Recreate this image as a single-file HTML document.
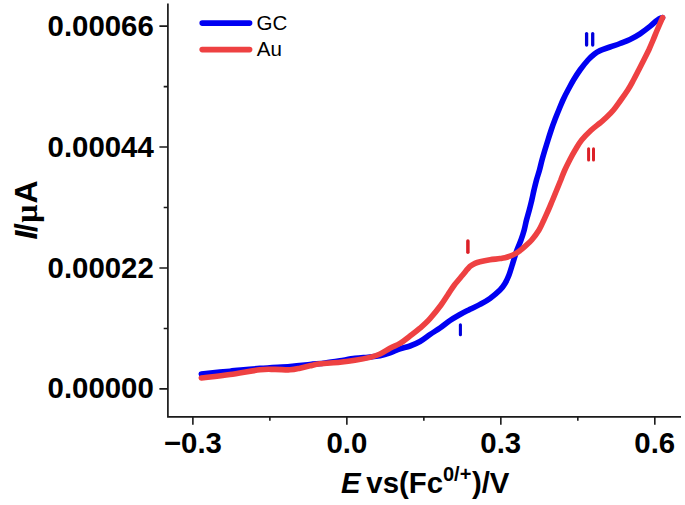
<!DOCTYPE html>
<html><head><meta charset="utf-8"><style>
html,body{margin:0;padding:0;background:#fff;}
body{width:685px;height:505px;overflow:hidden;}
svg{display:block;}
text{font-family:"Liberation Sans",sans-serif;}
.tl{font-size:29.4px;font-weight:bold;fill:#000;}
.yt{font-size:32px;font-weight:bold;fill:#000;}
.lg{font-size:20.5px;fill:#000;}
.an{font-size:19px;font-weight:bold;}
</style></head><body>
<svg width="685" height="505" viewBox="0 0 685 505">
<path d="M167.9 3.5 V416.8 H681" fill="none" stroke="#1a1a1a" stroke-width="1.7"/>
<path d="M159.4 388.9H167.9 M159.4 268.0H167.9 M159.4 147.06H167.9 M159.4 26.13H167.9 M163.70000000000002 328.45H167.9 M163.70000000000002 207.53H167.9 M163.70000000000002 86.6H167.9 M192.88 416.8V424.8 M346.86 416.8V424.8 M500.84 416.8V424.8 M654.82 416.8V424.8 M269.87 416.8V420.8 M423.85 416.8V420.8 M577.83 416.8V420.8" fill="none" stroke="#1a1a1a" stroke-width="1.6"/>
<text x="153.8" y="398.4" text-anchor="end" class="tl">0.00000</text>
<text x="153.8" y="277.5" text-anchor="end" class="tl">0.00022</text>
<text x="153.8" y="156.6" text-anchor="end" class="tl">0.00044</text>
<text x="153.8" y="35.6" text-anchor="end" class="tl">0.00066</text>
<text x="192.9" y="453.2" text-anchor="middle" class="tl">−0.3</text>
<text x="346.9" y="453.2" text-anchor="middle" class="tl">0.0</text>
<text x="500.8" y="453.2" text-anchor="middle" class="tl">0.3</text>
<text x="654.8" y="453.2" text-anchor="middle" class="tl">0.6</text>
<text x="341" y="492.8" class="tl"><tspan font-style="italic">E</tspan><tspan dx="-2.4"> vs(Fc</tspan><tspan font-size="20" dx="-0.2" dy="-11.5">0/+</tspan><tspan dx="0.6" dy="11.5">)/V</tspan></text>
<text transform="translate(36.6 239.5) rotate(-90)" class="yt"><tspan font-style="italic">I</tspan><tspan dx="-1.5">/</tspan><tspan font-family="Liberation Serif" font-weight="bold" dx="0.5">μ</tspan><tspan dx="1">A</tspan></text>
<path d="M201.3 374.0 C206.1 373.5 220.2 372.1 230.0 371.2 C239.8 370.3 250.0 369.2 260.0 368.4 C270.0 367.6 281.7 367.1 290.0 366.5 C298.3 365.9 304.2 365.1 310.0 364.5 C315.8 363.9 320.0 363.6 325.0 363.0 C330.0 362.4 335.0 361.6 340.0 360.8 C345.0 360.0 350.3 359.0 355.0 358.4 C359.7 357.8 363.8 357.6 368.0 357.2 C372.2 356.8 376.3 356.5 380.0 355.8 C383.7 355.1 386.7 354.1 390.0 352.9 C393.3 351.7 396.7 349.9 400.0 348.8 C403.3 347.7 406.7 347.2 410.0 346.0 C413.3 344.8 416.7 343.4 420.0 341.5 C423.3 339.6 426.7 336.8 430.0 334.5 C433.3 332.2 436.7 330.3 440.0 328.0 C443.3 325.7 446.7 322.8 450.0 320.5 C453.3 318.2 456.7 316.4 460.0 314.5 C463.3 312.6 466.7 311.0 470.0 309.3 C473.3 307.6 476.7 306.2 480.0 304.4 C483.3 302.6 486.7 300.8 490.0 298.4 C493.3 296.0 497.5 292.5 500.0 290.0 C502.5 287.5 503.5 286.0 505.0 283.5 C506.5 281.0 507.8 278.1 509.0 275.0 C510.2 271.9 510.9 269.2 512.2 265.0 C513.5 260.8 515.5 254.2 517.0 250.0 C518.5 245.8 519.8 243.3 521.0 240.0 C522.2 236.7 523.3 233.3 524.2 230.0 C525.1 226.7 525.6 223.3 526.5 220.0 C527.4 216.7 528.4 213.3 529.3 210.0 C530.2 206.7 531.0 203.3 531.8 200.0 C532.6 196.7 533.2 193.3 534.0 190.0 C534.8 186.7 535.6 183.3 536.5 180.0 C537.4 176.7 538.6 173.3 539.5 170.0 C540.4 166.7 541.1 163.3 542.0 160.0 C542.9 156.7 543.9 153.3 544.9 150.0 C545.9 146.7 547.0 143.3 548.0 140.0 C549.0 136.7 550.1 133.3 551.2 130.0 C552.3 126.7 553.5 123.3 554.8 120.0 C556.1 116.7 557.4 113.3 558.8 110.0 C560.2 106.7 561.5 103.3 563.0 100.0 C564.5 96.7 566.2 93.3 568.0 90.0 C569.8 86.7 571.5 83.3 573.5 80.0 C575.5 76.7 577.6 73.3 580.0 70.0 C582.4 66.7 585.6 62.7 588.0 60.0 C590.4 57.3 592.5 55.6 594.5 54.0 C596.5 52.4 597.4 51.8 600.0 50.6 C602.6 49.4 606.7 48.2 610.0 47.0 C613.3 45.8 616.7 44.8 620.0 43.5 C623.3 42.2 626.7 41.0 630.0 39.4 C633.3 37.8 636.7 36.0 640.0 33.8 C643.3 31.6 647.5 28.4 650.0 26.4 C652.5 24.4 653.5 23.2 655.0 22.0 C656.5 20.8 657.8 19.6 659.0 18.9 C660.2 18.2 661.9 17.8 662.5 17.6" fill="none" stroke="#0000f2" stroke-width="5.6" stroke-linecap="round" stroke-linejoin="round"/>
<path d="M201.3 378.0 C206.1 377.4 220.2 375.9 230.0 374.5 C239.8 373.1 252.5 370.7 260.0 369.8 C267.5 368.9 270.0 369.4 275.0 369.4 C280.0 369.4 285.8 370.0 290.0 369.8 C294.2 369.6 296.7 368.9 300.0 368.2 C303.3 367.5 306.7 366.5 310.0 365.8 C313.3 365.1 315.0 364.4 320.0 363.8 C325.0 363.2 334.2 362.8 340.0 362.2 C345.8 361.6 350.0 361.1 355.0 360.3 C360.0 359.5 365.8 358.4 370.0 357.4 C374.2 356.3 376.7 355.5 380.0 354.0 C383.3 352.5 386.7 350.0 390.0 348.2 C393.3 346.4 396.7 345.4 400.0 343.4 C403.3 341.4 406.7 338.5 410.0 336.0 C413.3 333.5 416.7 331.1 420.0 328.2 C423.3 325.3 426.5 322.5 430.0 318.6 C433.5 314.7 438.1 308.9 441.0 305.0 C443.9 301.1 445.5 298.3 447.7 295.0 C449.9 291.7 451.9 288.3 454.4 285.0 C456.9 281.7 460.1 278.1 462.7 275.0 C465.3 271.9 467.9 268.3 470.0 266.4 C472.1 264.5 473.3 264.2 475.0 263.4 C476.7 262.6 477.5 262.3 480.0 261.7 C482.5 261.1 486.7 260.3 490.0 259.8 C493.3 259.3 497.5 259.0 500.0 258.6 C502.5 258.2 503.3 258.1 505.0 257.7 C506.7 257.3 508.3 256.8 510.0 256.2 C511.7 255.6 513.3 254.8 515.0 253.9 C516.7 253.0 518.3 251.8 520.0 250.6 C521.7 249.3 523.0 248.2 525.0 246.4 C527.0 244.6 529.4 242.7 531.7 240.0 C534.0 237.3 537.0 233.3 539.0 230.0 C541.0 226.7 542.3 223.3 543.9 220.0 C545.5 216.7 546.9 213.3 548.4 210.0 C549.9 206.7 551.2 203.3 552.6 200.0 C554.0 196.7 555.3 193.3 556.7 190.0 C558.1 186.7 559.4 183.3 560.8 180.0 C562.1 176.7 563.3 173.3 564.8 170.0 C566.3 166.7 568.0 163.3 569.7 160.0 C571.4 156.7 573.2 153.3 575.2 150.0 C577.2 146.7 579.1 143.2 581.7 140.0 C584.3 136.8 587.8 133.3 590.8 130.5 C593.8 127.7 597.4 125.2 600.0 123.0 C602.6 120.8 604.2 119.5 606.5 117.3 C608.8 115.1 611.2 112.8 613.5 110.0 C615.8 107.2 618.1 103.8 620.5 100.5 C622.9 97.2 625.6 93.4 627.8 90.0 C630.0 86.6 631.7 83.3 633.5 80.0 C635.3 76.7 637.0 73.3 638.7 70.0 C640.4 66.7 642.1 63.3 643.8 60.0 C645.5 56.7 647.2 53.3 648.8 50.0 C650.3 46.7 651.7 43.3 653.1 40.0 C654.5 36.7 655.6 33.7 657.2 30.0 C658.8 26.3 661.7 19.7 662.6 17.6" fill="none" stroke="#ee4142" stroke-width="5.6" stroke-linecap="round" stroke-linejoin="round"/>
<path d="M202.2 23.1H249.6" stroke="#0000f2" stroke-width="5.6" stroke-linecap="round"/>
<path d="M202.2 49.6H249.6" stroke="#ee4142" stroke-width="5.6" stroke-linecap="round"/>
<text x="256.5" y="29.7" class="lg">GC</text>
<text x="256.8" y="56.1" class="lg">Au</text>
<rect x="458.85" y="323.3" width="3.1" height="13.00" rx="1.55" fill="#0000dc"/>
<rect x="466.15" y="239.3" width="3.5" height="14.70" rx="1.75" fill="#dc2027"/>
<rect x="584.95" y="31.9" width="3.3" height="14.80" rx="1.65" fill="#0000dc"/>
<rect x="591.05" y="31.9" width="3.3" height="14.80" rx="1.65" fill="#0000dc"/>
<rect x="587.10" y="147.2" width="3.0" height="14.40" rx="1.50" fill="#dc2027"/>
<rect x="592.00" y="147.2" width="3.0" height="14.40" rx="1.50" fill="#dc2027"/>
</svg>
</body></html>
